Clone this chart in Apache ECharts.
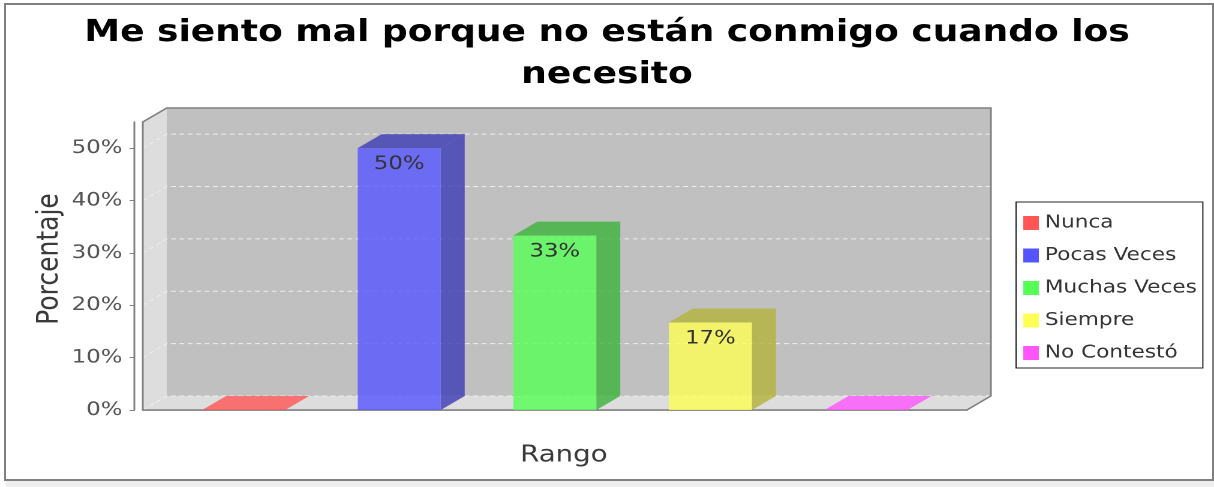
<!DOCTYPE html>
<html>
<head>
<meta charset="utf-8">
<title>Me siento mal porque no están conmigo cuando los necesito</title>
<script src="https://cdn.jsdelivr.net/npm/echarts@6/dist/echarts.min.js"></script>
<style>
  html, body { margin: 0; padding: 0; background: #fff; }
  #frame { position: absolute; left: 4px; top: 3px; width: 1206px; height: 474px; border: 2px solid #808080; }
  #strip { position: absolute; left: 6px; top: 481px; width: 1208px; height: 6px; background: #eeeeee; }
  /* the original picture is stretched sideways, so is this one */
  #chart { position: absolute; left: 0; top: 0; width: 1012px; height: 487px;
           transform: scaleX(1.1996); transform-origin: 0 0; }
</style>
</head>
<body>
<div id="frame"></div>
<div id="strip"></div>
<div id="chart"></div>
<script>
// datos del grafico
var titulo = 'Me siento mal porque no están conmigo cuando los\nnecesito';
var rango = [''];
var categorias = ['Nunca', 'Pocas Veces', 'Muchas Veces', 'Siempre', 'No Contestó'];
var valores = [0, 50, 33.3, 16.7, 0];
var yTicks = [0, 10, 20, 30, 40, 50];

var colores = ['#FF5555', '#5555FF', '#55FF55', '#FFFF55', '#FF55FF'];

var DX = 20, DY = 14;          // profundidad 3D
var FONT = 'DejaVu Sans';

function rgba(hex, k, a) {
  var r = parseInt(hex.slice(1, 3), 16) * k,
      g = parseInt(hex.slice(3, 5), 16) * k,
      b = parseInt(hex.slice(5, 7), 16) * k;
  return 'rgba(' + Math.round(r) + ',' + Math.round(g) + ',' + Math.round(b) + ',' + a + ')';
}

// paredes y lineas de la cuadricula
function renderFondo(params, api) {
  var cs = params.coordSys;
  var x0 = cs.x, x1 = cs.x + cs.width, yT = cs.y, yB = cs.y + cs.height;
  var kids = [
    { type: 'rect', shape: { x: x0 + DX, y: yT - DY, width: x1 - x0, height: yB - yT }, style: { fill: '#C0C0C0' } },
    { type: 'polygon', shape: { points: [[x0, yT], [x0 + DX, yT - DY], [x0 + DX, yB - DY], [x0, yB]] }, style: { fill: '#DDDDDD' } },
    { type: 'polygon', shape: { points: [[x0, yB], [x0 + DX, yB - DY], [x1 + DX, yB - DY], [x1, yB]] }, style: { fill: '#DDDDDD' } }
  ];
  yTicks.forEach(function (v) {
    var y = api.coord([0, v])[1];
    kids.push({ type: 'polyline', shape: { points: [[x0, y], [x0 + DX, y - DY], [x1 + DX, y - DY]] },
      style: { stroke: '#EEEEEE', lineWidth: 1, lineDash: [4, 3], fill: null } });
  });
  kids.push({ type: 'polygon',
    shape: { points: [[x0, yT], [x0 + DX, yT - DY], [x1 + DX, yT - DY], [x1 + DX, yB - DY], [x1, yB], [x0, yB]] },
    style: { fill: null, stroke: '#808080', lineWidth: 1.5 } });
  return { type: 'group', children: kids };
}

function renderBarra(i) {
  return function (params, api) {
    var band = api.size([1, 0])[0];
    var c = api.coord([api.value(0), api.value(1)]);
    var base = api.coord([api.value(0), 0]);
    var w = band * 0.1007;
    var cx = c[0] + (i - 2) * band * 0.1888;
    var xl = cx - w / 2, xr = cx + w / 2, yt = c[1], yb = base[1];
    var col = colores[i];
    var dark = rgba(col, 0.7, 0.8);
    var kids = [];
    var plano = yb - yt < 1;
    kids.push({ type: 'polygon', shape: { points: [[xr, yt], [xr + DX, yt - DY], [xr + DX, yb - DY], [xr, yb]] }, style: { fill: dark } });
    kids.push({ type: 'polygon', shape: { points: [[xl, yt], [xl + DX, yt - DY], [xr + DX, yt - DY], [xr, yt]] },
      style: { fill: plano ? rgba(col, 1, 0.8) : dark } });
    if (!plano) {
      kids.push({ type: 'rect', shape: { x: xl, y: yt, width: w, height: yb - yt }, style: { fill: rgba(col, 1, 0.8) } });
      kids.push({ type: 'text', style: { text: Math.round(api.value(1)) + '%', x: cx, y: yt + 16,
        align: 'center', verticalAlign: 'middle', fill: '#333', font: '19px "' + FONT + '"' } });
    }
    return { type: 'group', children: kids };
  };
}

var series = [{
  type: 'custom', name: 'fondo', z: 1, silent: true,
  data: [[0, 0]], renderItem: renderFondo
}];
categorias.forEach(function (nombre, i) {
  series.push({
    type: 'custom', name: nombre, z: 2,
    itemStyle: { color: colores[i] },
    data: [[0, valores[i]]],
    renderItem: renderBarra(i)
  });
});

var chart = echarts.init(document.getElementById('chart'), null, { devicePixelRatio: 2 });
chart.setOption({
  animation: false,
  title: {
    text: titulo, left: 'center', top: 7,
    textStyle: { fontFamily: FONT, fontSize: 30, fontWeight: 'bold', color: '#000', lineHeight: 42 }
  },
  legend: {
    data: categorias, orient: 'vertical', left: 847, top: 202,
    icon: 'rect', itemWidth: 13, itemHeight: 14, itemGap: 14.5,
    padding: [12, 5, 6, 6], borderColor: '#222', borderWidth: 1,
    textStyle: { fontFamily: FONT, fontSize: 18, color: '#333', lineHeight: 18 }
  },
  grid: { left: 119, right: 206, top: 122, bottom: 77 },
  xAxis: {
    type: 'category', data: rango, offset: 8,
    name: 'Rango', nameLocation: 'middle', nameGap: 26, nameMoveOverlap: false,
    nameTextStyle: { fontFamily: FONT, fontSize: 23, fontWeight: 500, color: '#3a3a3a', padding: [0, 0, 0, 15] },
    axisLine: { lineStyle: { color: '#808080', width: 1.5 } },
    axisTick: { alignWithLabel: true, length: 4, lineStyle: { color: '#808080' } },
    axisLabel: { show: false }
  },
  yAxis: {
    type: 'value', min: 0, max: 55, interval: 10, offset: 7,
    name: 'Porcentaje', nameLocation: 'middle', nameGap: 58, nameMoveOverlap: false,
    nameTextStyle: { fontFamily: FONT, fontSize: 25, color: '#3a3a3a', padding: [0, 0, 0, 14] },
    axisLine: { show: true, lineStyle: { color: '#808080', width: 1.5 } },
    axisTick: { show: true, length: 4, customValues: yTicks, lineStyle: { color: '#808080' } },
    axisLabel: { customValues: yTicks, formatter: '{value}%', margin: 10,
      fontFamily: FONT, fontSize: 19, color: '#555' },
    splitLine: { show: false }
  },
  series: series
});
</script>
</body>
</html>
